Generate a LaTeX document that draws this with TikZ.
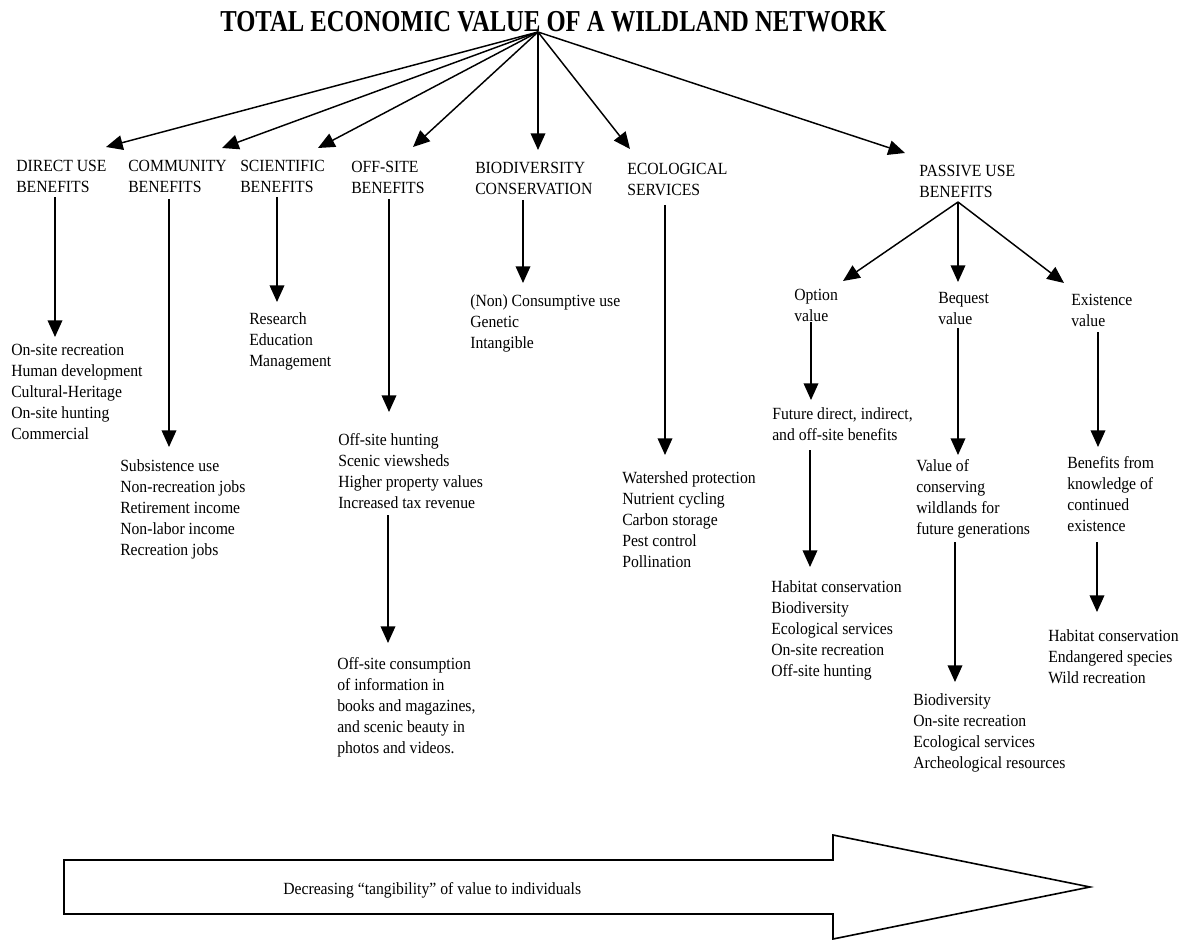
\documentclass[tikz,border=0pt]{standalone}
\usepackage{fontspec}
\setmainfont{Liberation Serif}[FakeStretch=0.92]
\newfontfamily\titlefont{Liberation Serif}[FakeStretch=0.81]
\usetikzlibrary{arrows.meta}
\begin{document}
\begin{tikzpicture}[x=0.75pt,y=-0.75pt,
  txt/.style={font=\fontsize{12.8}{15.75}\selectfont, inner sep=0pt, align=left, anchor=base west},
  arr/.style={-{Triangle[length=12.5pt,width=11pt]}, line width=1.1pt},
  bigarrow/.style={line width=1.2pt}]
\fill[white] (0,0) rectangle (1181,941);
\useasboundingbox (0,0) rectangle (1181,941);

% title
\node[anchor=base west, inner sep=0pt, font={\titlefont\bfseries\fontsize{22.8}{26}\selectfont}] (title) at (220,32) {TOTAL ECONOMIC VALUE OF A WILDLAND NETWORK};

% headers (anchor = baseline of last line)
\node[txt] (hdirect) at (16,193) {DIRECT USE\\BENEFITS};
\node[txt] (hcomm) at (128,193) {COMMUNITY\\BENEFITS};
\node[txt] (hsci) at (240,193) {SCIENTIFIC\\BENEFITS};
\node[txt] (hoff) at (351,194) {OFF-SITE\\BENEFITS};
\node[txt] (hbio) at (475,195) {BIODIVERSITY\\CONSERVATION};
\node[txt] (heco) at (627,196) {ECOLOGICAL\\SERVICES};
\node[txt] (hpass) at (919,198) {PASSIVE USE\\BENEFITS};

% sub headers of passive use
\node[txt] (option) at (794,321) {Option\\value};
\node[txt] (bequest) at (938,324) {Bequest\\value};
\node[txt] (exist) at (1071,326) {Existence\\value};

% lists
\node[txt] (ldirect) at (11,439) {On-site recreation\\Human development\\Cultural-Heritage\\On-site hunting\\Commercial};
\node[txt] (lcomm) at (120,555) {Subsistence use\\Non-recreation jobs\\Retirement income\\Non-labor income\\Recreation jobs};
\node[txt] (lsci) at (249,366) {Research\\Education\\Management};
\node[txt] (loffa) at (338,508) {Off-site hunting\\Scenic viewsheds\\Higher property values\\Increased tax revenue};
\node[txt] (loffb) at (337,753) {Off-site consumption\\of information in\\books and magazines,\\and scenic beauty in\\photos and videos.};
\node[txt] (lbio) at (470,348) {(Non) Consumptive use\\Genetic\\Intangible};
\node[txt] (leco) at (622,567) {Watershed protection\\Nutrient cycling\\Carbon storage\\Pest control\\Pollination};
\node[txt] (lopta) at (772,440) {Future direct, indirect,\\and off-site benefits};
\node[txt] (loptb) at (771,676) {Habitat conservation\\Biodiversity\\Ecological services\\On-site recreation\\Off-site hunting};
\node[txt] (lbeqa) at (916,534) {Value of\\conserving\\wildlands for\\future generations};
\node[txt] (lbeqb) at (913,768) {Biodiversity\\On-site recreation\\Ecological services\\Archeological resources};
\node[txt] (lexa) at (1067,531) {Benefits from\\knowledge of\\continued\\existence};
\node[txt] (lexb) at (1048,683) {Habitat conservation\\Endangered species\\Wild recreation};

% connector points
\coordinate (apex) at (538,32);
\coordinate (tdirect) at (106,147);
\coordinate (tcomm) at (222,148);
\coordinate (tsci) at (318,148);
\coordinate (toff) at (413,147);
\coordinate (tbio) at (538,150);
\coordinate (teco) at (630,149);
\coordinate (tpass) at (905,153);

\draw[arr] (apex) -- (tdirect);
\draw[arr] (apex) -- (tcomm);
\draw[arr] (apex) -- (tsci);
\draw[arr] (apex) -- (toff);
\draw[arr] (apex) -- (tbio);
\draw[arr] (apex) -- (teco);
\draw[arr] (apex) -- (tpass);

% vertical arrows
\coordinate (sdirect) at (55,197);  \coordinate (edirect) at (55,337);
\coordinate (scomm) at (169,199);   \coordinate (ecomm) at (169,447);
\coordinate (ssci) at (277,197);    \coordinate (esci) at (277,302);
\coordinate (soffa) at (389,199);   \coordinate (eoffa) at (389,412);
\coordinate (soffb) at (388,515);   \coordinate (eoffb) at (388,643);
\coordinate (sbio) at (523,200);    \coordinate (ebio) at (523,283);
\coordinate (seco) at (665,205);    \coordinate (eeco) at (665,455);
\draw[arr] (sdirect) -- (edirect);
\draw[arr] (scomm) -- (ecomm);
\draw[arr] (ssci) -- (esci);
\draw[arr] (soffa) -- (eoffa);
\draw[arr] (soffb) -- (eoffb);
\draw[arr] (sbio) -- (ebio);
\draw[arr] (seco) -- (eeco);

% passive use branches
\coordinate (spass) at (958,202);
\coordinate (topt) at (843,281);
\coordinate (tbeq) at (958,282);
\coordinate (tex) at (1064,283);
\draw[arr] (spass) -- (topt);
\draw[arr] (spass) -- (tbeq);
\draw[arr] (spass) -- (tex);

\coordinate (sopta) at (811,322);  \coordinate (eopta) at (811,400);
\coordinate (soptb) at (810,450);  \coordinate (eoptb) at (810,567);
\coordinate (sbeqa) at (958,328);  \coordinate (ebeqa) at (958,455);
\coordinate (sbeqb) at (955,542);  \coordinate (ebeqb) at (955,682);
\coordinate (sexa) at (1098,332);  \coordinate (eexa) at (1098,447);
\coordinate (sexb) at (1097,542);  \coordinate (eexb) at (1097,612);
\draw[arr] (sopta) -- (eopta);
\draw[arr] (soptb) -- (eoptb);
\draw[arr] (sbeqa) -- (ebeqa);
\draw[arr] (sbeqb) -- (ebeqb);
\draw[arr] (sexa) -- (eexa);
\draw[arr] (sexb) -- (eexb);

% big arrow
\draw[bigarrow] (64,860) -- (833,860) -- (833,835) -- (1090,887) -- (833,939) -- (833,914) -- (64,914) -- cycle;
\node[txt] (tangible) at (283,894) {Decreasing “tangibility” of value to individuals};
\end{tikzpicture}
\end{document}
